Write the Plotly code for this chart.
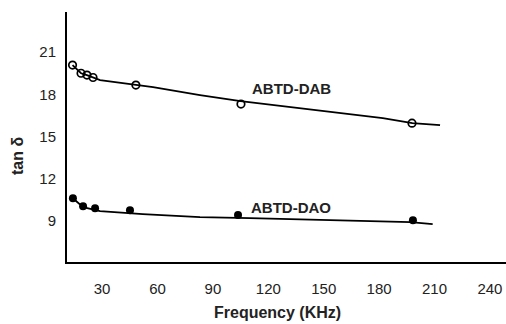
import plotly.graph_objects as go

# Measured points (frequency in KHz, tan delta)
dab_freq = [14, 18.6, 21.8, 25.1, 48.3, 105.2, 197.8]
dab_tan = [20.08, 19.5, 19.37, 19.2, 18.66, 17.31, 15.96]
dao_freq = [14.2, 19.7, 26.2, 45.1, 103.6, 198.3]
dao_tan = [10.63, 10.06, 9.92, 9.78, 9.43, 9.07]

# Fitted trend curves
dab_curve_freq = [14, 18.6, 21.8, 25.1, 28.9, 57.6, 83, 105, 146, 182, 198, 213]
dab_curve_tan = [20.08, 19.5, 19.37, 19.2, 19.01, 18.51, 17.95, 17.52, 16.88, 16.31, 15.96, 15.82]
dao_curve_freq = [14.2, 19.7, 28.9, 52, 83, 110, 197, 209]
dao_curve_tan = [10.63, 10.0, 9.71, 9.5, 9.28, 9.21, 8.93, 8.79]

x_ticks = [30, 60, 90, 120, 150, 180, 210, 240]
y_ticks = [9, 12, 15, 18, 21]

FONT = "Liberation Sans, Arial, Helvetica, sans-serif"

fig = go.Figure()
fig.add_trace(go.Scatter(x=dab_curve_freq, y=dab_curve_tan, mode="lines",
                         line=dict(color="black", width=1.8), showlegend=False))
fig.add_trace(go.Scatter(x=dao_curve_freq, y=dao_curve_tan, mode="lines",
                         line=dict(color="black", width=1.8), showlegend=False))
fig.add_trace(go.Scatter(x=dab_freq, y=dab_tan, mode="markers",
                         marker=dict(symbol="circle-open", size=7.5, color="black",
                                     line=dict(width=1.7, color="black")),
                         showlegend=False))
fig.add_trace(go.Scatter(x=dao_freq, y=dao_tan, mode="markers",
                         marker=dict(symbol="circle", size=8, color="black"),
                         showlegend=False))

fig.add_annotation(x=132.3, y=18.44, text="<b>ABTD-DAB</b>", showarrow=False,
                   font=dict(family=FONT, size=15, color="#222"))
fig.add_annotation(x=132.3, y=10.0, text="<b>ABTD-DAO</b>", showarrow=False,
                   font=dict(family=FONT, size=15, color="#222"))

fig.add_annotation(xref="paper", yref="paper", x=0.48, y=-0.158,
                   xanchor="center", yanchor="top",
                   text="<b>Frequency (KHz)</b>", showarrow=False,
                   font=dict(family=FONT, size=16, color="#222"))
fig.add_annotation(xref="paper", yref="paper", x=-0.114, y=0.424,
                   xanchor="center", yanchor="middle",
                   text="<b>tan δ</b>", textangle=-90, showarrow=False,
                   font=dict(family=FONT, size=16, color="#222"))

fig.update_xaxes(range=[11.0, 248.7], tickvals=x_ticks,
                 ticktext=[str(v) for v in x_ticks], automargin=False,
                 showgrid=False, zeroline=False, showline=True,
                 linecolor="black", linewidth=2,
                 ticks="outside", ticklen=12, tickcolor="rgba(0,0,0,0)",
                 tickfont=dict(family=FONT, size=15, color="#222"),
                 tickprefix="<b>", ticksuffix="</b>")
fig.update_yaxes(range=[6.1, 23.85], tickvals=y_ticks, automargin=False,
                 showgrid=False, zeroline=False, showline=True,
                 linecolor="black", linewidth=2,
                 ticks="outside", ticklen=6, tickcolor="rgba(0,0,0,0)",
                 tickfont=dict(family=FONT, size=15, color="#222"),
                 tickprefix="<b>", ticksuffix="</b>")

fig.update_layout(width=506, height=324,
                  margin=dict(l=67, r=0, t=12, b=62),
                  plot_bgcolor="white", paper_bgcolor="white")

fig.write_html("out.html",
               config={"displayModeBar": False},
               post_script="document.body.style.margin='0';"
                           "document.body.style.padding='0';"
                           "document.documentElement.style.overflow='hidden';")
